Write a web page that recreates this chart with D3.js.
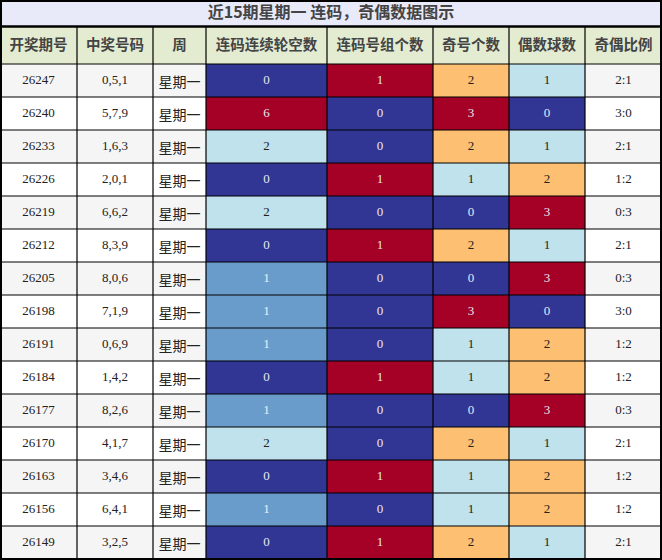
<!DOCTYPE html><html><head><meta charset="utf-8"><script src="https://cdn.jsdelivr.net/npm/d3@7"></script>
<style>body{margin:0;background:#fff}</style></head><body><svg id="c" width="662" height="560"></svg>
<script>
const title="近15期星期一 连码，奇偶数据图示";
const headers=["开奖期号","中奖号码","周","连码连续轮空数","连码号组个数","奇号个数","偶数球数","奇偶比例"];
const periods=["26247","26240","26233","26226","26219","26212","26205","26198","26191","26184","26177","26170","26163","26156","26149"];
const numbers=["0,5,1","5,7,9","1,6,3","2,0,1","6,6,2","8,3,9","8,0,6","7,1,9","0,6,9","1,4,2","8,2,6","4,1,7","3,4,6","6,4,1","3,2,5"];
const weekday="星期一";
const gaps=[0,6,2,0,2,0,1,1,1,0,1,2,0,1,0];
const groups=[1,0,0,1,0,1,0,0,0,1,0,0,1,0,1];
const odds=[2,3,2,1,0,2,0,3,1,1,0,2,1,1,2];
const evens=[1,0,1,2,3,1,3,0,2,2,3,1,2,2,1];
const ratios=["2:1","3:0","2:1","1:2","0:3","2:1","0:3","3:0","1:2","1:2","0:3","2:1","1:2","1:2","2:1"];
const colEdges=[0,77,153,206,327,433,509,585,662];
const C={db:"#313695",mb:"#6a9ccb",lb:"#bfe2ec",or:"#fdbf71",rd:"#a50026"};
const gapColor=d3.scaleOrdinal().domain([0,1,2,6]).range([C.db,C.mb,C.lb,C.rd]);
const grpColor=d3.scaleOrdinal().domain([0,1]).range([C.db,C.rd]);
const cntColor=d3.scaleOrdinal().domain([0,1,2,3]).range([C.db,C.lb,C.or,C.rd]);
const svg=d3.select("#c");
const titleH=26,headY=27,headH=37,rowH=33;
const y=d3.scaleBand().domain(d3.range(15)).range([headY+headH,headY+headH+15*rowH]);
const serif="'Liberation Serif','DejaVu Serif',serif", cjk="'Noto Sans CJK SC',sans-serif";
svg.append("rect").attr("width",662).attr("height",titleH).attr("fill","#e8eafa");
svg.append("text").attr("x",331).attr("y",titleH/2+1).attr("text-anchor","middle").attr("dominant-baseline","middle")
 .attr("font-family",cjk).attr("font-weight","bold").attr("font-size",16).attr("fill","#444").text(title);
svg.append("rect").attr("y",headY).attr("width",662).attr("height",headH).attr("fill","#e3ecd1");
headers.forEach((h,i)=>svg.append("text").attr("x",(colEdges[i]+colEdges[i+1])/2).attr("y",headY+headH/2+1)
 .attr("text-anchor","middle").attr("dominant-baseline","middle").attr("font-family",cjk).attr("font-weight","bold")
 .attr("font-size",14.5).attr("fill","#444").text(h));
const rows=d3.range(15).map(i=>[
 {t:periods[i]},{t:numbers[i]},{t:weekday,cjk:1},
 {t:gaps[i],c:gapColor(gaps[i])},{t:groups[i],c:grpColor(groups[i])},
 {t:odds[i],c:cntColor(odds[i])},{t:evens[i],c:cntColor(evens[i])},{t:ratios[i]}]);
rows.forEach((r,i)=>{
 r.forEach((cell,j)=>{
  const x0=colEdges[j],w=colEdges[j+1]-x0,fill=cell.c||(i%2===0?"#f5f5f5":"#fff");
  svg.append("rect").attr("x",x0).attr("y",y(i)).attr("width",w).attr("height",rowH).attr("fill",fill);
  const dark=fill===C.db||fill===C.rd||fill===C.mb;
  svg.append("text").attr("x",x0+w/2).attr("y",y(i)+rowH/2+(cell.cjk?3:1)).attr("text-anchor","middle").attr("dominant-baseline","middle")
   .attr("font-family",cell.cjk?cjk:serif).attr("font-size",cell.cjk?14:13).attr("fill",dark?(fill===C.mb?"#e8f0f8":"#e8e8f0"):"#222").text(cell.t);
 });
});
// grid lines
const g=svg.append("g").attr("stroke","#000").attr("stroke-width",1.2);
colEdges.slice(1,-1).forEach(x=>g.append("line").attr("x1",x).attr("x2",x).attr("y1",headY).attr("y2",560));
d3.range(16).forEach(i=>{const yy=headY+headH+i*rowH;g.append("line").attr("x1",0).attr("x2",662).attr("y1",yy).attr("y2",yy);});
g.append("line").attr("x1",0).attr("x2",662).attr("y1",titleH+0.5).attr("y2",titleH+0.5).attr("stroke-width",2.5);
svg.append("rect").attr("x",1).attr("y",1).attr("width",660).attr("height",558).attr("fill","none").attr("stroke","#000").attr("stroke-width",2);
</script></body></html>
